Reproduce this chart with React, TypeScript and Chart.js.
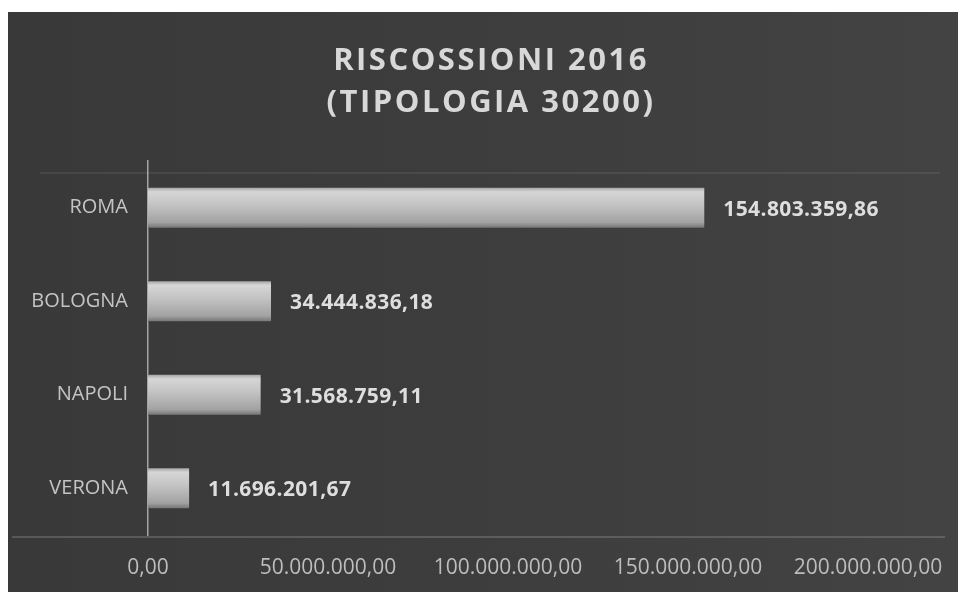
import React, { useEffect, useRef } from "react";
import { Chart, registerables } from "chart.js";

Chart.register(...registerables);

const categories = ["ROMA", "BOLOGNA", "NAPOLI", "VERONA"];
const values = [154803359.86, 34444836.18, 31568759.11, 11696201.67];
const titleLines = ["RISCOSSIONI 2016", "(TIPOLOGIA 30200)"];
const xMin = 0;
const xMax = 200000000;
const xStep = 50000000;

function fmtIt(v: number): string {
  const [i, d] = v.toFixed(2).split(".");
  return i.replace(/\B(?=(\d{3})+(?!\d))/g, ".") + "," + d;
}

const bgPlugin = {
  id: "bgPanel",
  beforeDraw(chart: any) {
    const { ctx, width, height, chartArea } = chart;
    ctx.save();
    ctx.fillStyle = "#ffffff";
    ctx.fillRect(0, 0, width, height);
    const g = ctx.createLinearGradient(8, 0, 958, 0);
    g.addColorStop(0, "#393939");
    g.addColorStop(0.5, "#3d3d3d");
    g.addColorStop(1, "#434343");
    ctx.fillStyle = g;
    ctx.fillRect(8, 12, 950, height - 12);
    // faint band near top of plot
    ctx.strokeStyle = "rgba(255,255,255,0.07)";
    ctx.lineWidth = 2;
    ctx.beginPath();
    ctx.moveTo(40, chartArea.top + 12);
    ctx.lineTo(940, chartArea.top + 12);
    ctx.stroke();
    // bottom axis line across the panel
    ctx.strokeStyle = "rgba(200,200,200,0.3)";
    ctx.lineWidth = 1.5;
    ctx.beginPath();
    ctx.moveTo(12, chartArea.bottom + 2);
    ctx.lineTo(945, chartArea.bottom + 2);
    ctx.stroke();
    ctx.restore();
  },
};

const titlePlugin = {
  id: "customTitle",
  afterDraw(chart: any) {
    const { ctx } = chart;
    ctx.save();
    ctx.font = "bold 31px 'Open Sans'";
    (ctx as any).letterSpacing = "2.5px";
    ctx.fillStyle = "#d8d8d8";
    ctx.textAlign = "center";
    ctx.textBaseline = "middle";
    titleLines.forEach((t, i) => {
      ctx.fillText(t, 491, 61 + i * 42);
    });
    ctx.restore();
  },
};

const labelPlugin = {
  id: "valueLabels",
  afterDatasetsDraw(chart: any) {
    const { ctx } = chart;
    const meta = chart.getDatasetMeta(0);
    ctx.save();
    ctx.font = "bold 21px 'Open Sans'";
    (ctx as any).letterSpacing = "0.4px";
    ctx.fillStyle = "#dedede";
    ctx.textAlign = "left";
    ctx.textBaseline = "middle";
    meta.data.forEach((bar: any, i: number) => {
      ctx.fillText(fmtIt(values[i]), bar.x + 18, bar.y + 2);
    });
    ctx.restore();
  },
};

export default function App() {
  const ref = useRef<HTMLCanvasElement | null>(null);
  useEffect(() => {
    if (!ref.current) return;
    const chart = new Chart(ref.current, {
      type: "bar",
      data: {
        labels: categories,
        datasets: [
          {
            data: values,
            backgroundColor: (c: any) => {
              const ch = c.chart;
              if (!ch.chartArea) return "#aaaaaa";
              const y = ch.scales.y.getPixelForValue(c.dataIndex);
              const g = ch.ctx.createLinearGradient(0, y - 21, 0, y + 21);
              g.addColorStop(0, "#9a9a9a");
              g.addColorStop(0.12, "#d6d6d6");
              g.addColorStop(0.45, "#c2c2c2");
              g.addColorStop(0.85, "#a2a2a2");
              g.addColorStop(1, "#6e6e6e");
              return g;
            },
            borderColor: "rgba(60,60,60,0.6)",
            borderWidth: 1,
            barPercentage: 0.5,
            categoryPercentage: 0.9,
          },
        ],
      },
      options: {
        indexAxis: "y",
        responsive: false,
        animation: false,
        layout: { padding: { left: 0, right: 96, top: 161, bottom: 0 } },
        plugins: {
          legend: { display: false },
          tooltip: { enabled: false },
          title: { display: false },
        },
        scales: {
          x: {
            min: xMin,
            max: xMax,
            ticks: {
              stepSize: xStep,
              color: "#bdbdbd",
              font: { family: "'Open Sans'", size: 21 },
              padding: 20,
              callback: (v: any) => fmtIt(Number(v)),
              maxRotation: 0,
              autoSkip: false,
            },
            grid: { display: false, drawTicks: false },
            border: { display: false },
            afterFit: (s: any) => {
              s.height = 57;
            },
          },
          y: {
            ticks: {
              color: "#c4c4c4",
              font: { family: "'Open Sans'", size: 20 },
              padding: 20,
            },
            grid: { display: false, drawTicks: false },
            border: { display: true, color: "rgba(210,210,210,0.7)", width: 1.5 },
            afterFit: (s: any) => {
              s.width = 148;
            },
          },
        },
      },
      plugins: [bgPlugin, labelPlugin, titlePlugin],
    });
    return () => chart.destroy();
  }, []);
  return (
    <div style={{ position: "absolute", left: 0, top: 0, width: 964, height: 592 }}>
      <canvas ref={ref} width={964} height={592} />
    </div>
  );
}
